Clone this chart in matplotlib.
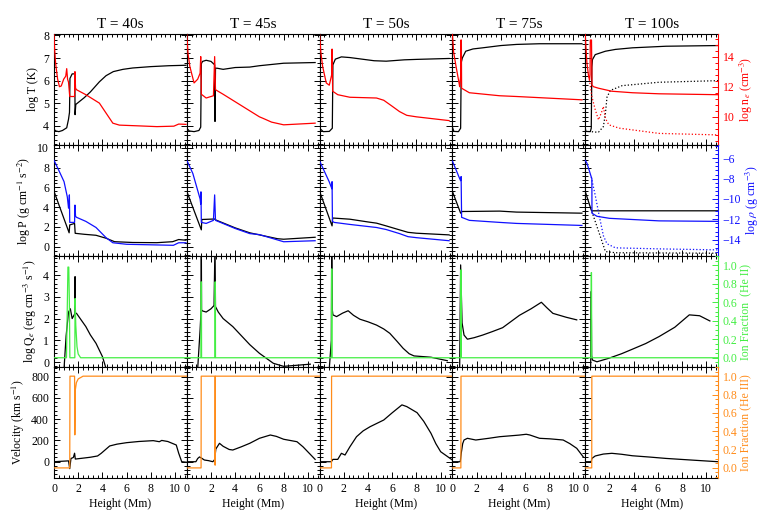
import matplotlib
matplotlib.use('Agg')
import matplotlib.pyplot as plt
from matplotlib.ticker import MultipleLocator, AutoMinorLocator

plt.rcParams['font.family'] = ['Liberation Serif', 'DejaVu Serif']
plt.rcParams['mathtext.fontset'] = 'stix'

# panel times (s)
times = [40, 45, 50, 75, 100]

# ---- T = 40 s ----  (height [Mm], value)
logT_40 = [(0, 3.85), (0.15, 3.78), (0.4, 3.75), (0.7, 3.8), (1.05, 3.92), (1.2, 4.3), (1.28, 4.6), (1.32, 6.1),
           (1.5, 6.3), (1.72, 6.3), (1.74, 4.5), (1.8, 4.95), (2.5, 5.25), (3.0, 5.5), (3.75, 5.95), (4.3, 6.22),
           (4.9, 6.4), (5.7, 6.5), (6.5, 6.56), (8.0, 6.62), (9.5, 6.66), (10.9, 6.68)]
ne_40 = [(0, 15.5), (0.05, 14.5), (0.14, 13.5), (0.3, 12.5), (0.45, 12.0), (0.6, 12.05), (0.8, 12.5), (0.97, 12.7),
         (1.05, 13.2), (1.12, 12.5), (1.2, 12.3), (1.3, 11.35), (1.7, 11.35), (1.73, 13.0), (1.78, 11.9),
         (1.86, 11.8), (2.63, 11.47), (3.75, 10.91), (4.3, 10.25), (4.86, 9.58), (5.4, 9.45), (7.0, 9.4),
         (8.5, 9.35), (9.9, 9.38), (10.3, 9.52), (10.9, 9.5)]
P_40 = [(0, 5.6), (1.25, 1.4), (1.3, 2.2), (1.7, 2.35), (1.75, 1.35), (2.5, 1.25), (3.47, 1.15), (4.3, 0.85),
        (5.0, 0.5), (6.5, 0.42), (8.5, 0.4), (9.8, 0.5), (10.3, 0.72), (10.9, 0.65)]
rho_40 = [(0, -6.2), (0.4, -7.2), (0.83, -8.3), (1.1, -9.8), (1.2, -10.9), (1.24, -10.7), (1.27, -9.6),
          (1.3, -12.3), (1.7, -12.3), (1.73, -10.6), (1.78, -11.7), (1.86, -11.8), (2.63, -12.2),
          (3.47, -12.8), (4.3, -13.8), (4.86, -14.3), (6.0, -14.45), (9.86, -14.55), (10.3, -14.3), (10.9, -14.3)]
Q_40 = [(0.83, -0.3), (1.0, 1.2), (1.2, 2.3), (1.35, 2.45), (1.5, 2.0), (1.67, 2.17), (1.73, 2.25), (1.74, 3.93),
        (1.77, 2.25), (1.86, 2.24), (2.63, 1.63), (3.0, 1.25), (3.47, 0.86), (4.0, 0.25), (4.3, -0.3)]
He2_40 = [(0, 0), (1.03, 0), (1.08, 0.4), (1.15, 0.98), (1.22, 0.98), (1.27, 0.6), (1.31, 0.0), (1.72, 0.0),
          (1.74, 0.64), (1.8, 0.35), (1.9, 0.12), (2.0, 0.04), (2.2, 0.0), (10.97, 0.0)]
V_40 = [(0, 0), (1.2, 8), (1.3, -65), (1.4, 30), (1.6, 40), (1.7, 80), (1.76, 25), (2.5, 35), (3.0, 42),
        (3.6, 54), (3.9, 79), (4.6, 148), (5.2, 165), (6.0, 179), (7.0, 190), (8.2, 198), (8.7, 188),
        (8.9, 200), (9.4, 190), (10.1, 157), (10.3, 80), (10.55, 0), (10.97, -5)]
He3_40 = [(0, 0), (1.3, 0), (1.32, 1.0), (1.7, 1.0), (1.72, 0.36), (1.76, 0.85), (1.85, 0.93), (2.0, 0.97),
          (2.4, 1.0), (10.97, 1.0)]

# ---- T = 45 s ----
logT_45 = [(0, 3.9), (0.2, 3.78), (0.6, 3.75), (1.0, 3.8), (1.15, 3.95), (1.2, 6.75), (1.3, 6.85), (1.6, 6.9),
           (2.0, 6.85), (2.3, 6.7), (2.33, 4.2), (2.37, 6.55), (2.5, 6.55), (3.0, 6.5), (4.0, 6.58), (5.2, 6.6),
           (6.0, 6.66), (8.0, 6.77), (10.6, 6.8)]
ne_45 = [(0, 15.5), (0.1, 14.2), (0.25, 13.35), (0.6, 12.25), (0.9, 12.5), (1.1, 12.9), (1.15, 14.0),
         (1.2, 11.5), (1.6, 11.25), (2.2, 11.4), (2.3, 14.0), (2.37, 11.8), (3.0, 11.5), (4.0, 11.0),
         (5.2, 10.4), (6.0, 10.0), (6.3, 9.9), (7.0, 9.65), (8.0, 9.47), (10.6, 9.58)]
P_45 = [(0, 5.6), (1.2, 1.7), (1.24, 2.75), (2.3, 2.8), (2.4, 2.7), (4.0, 1.9), (5.2, 1.4), (6.0, 1.19),
        (7.5, 0.8), (8.0, 0.75), (10.6, 0.95)]
rho_45 = [(0, -6.2), (0.5, -7.5), (1.1, -10.0), (1.15, -10.5), (1.17, -9.3), (1.2, -12.3), (1.6, -12.4),
          (2.2, -12.1), (2.3, -9.6), (2.37, -12.1), (4.0, -12.9), (5.2, -13.4), (6.0, -13.5), (8.0, -14.2),
          (10.6, -14.1)]
Q_45 = [(0.9, -0.3), (1.1, 1.5), (1.18, 2.4), (1.2, 5.5), (1.22, 2.4), (1.3, 2.35), (1.6, 2.3), (2.0, 2.45),
        (2.25, 2.6), (2.33, 5.5), (2.37, 2.55), (2.6, 2.3), (3.0, 2.0), (3.8, 1.63), (5.2, 0.8), (6.0, 0.4),
        (7.15, -0.06), (8.0, -0.2), (10.2, -0.1)]
He2_45 = [(0, 0), (1.17, 0), (1.18, 0.82), (1.21, 0.82), (1.22, 0), (2.32, 0), (2.33, 0.82), (2.36, 0.82),
          (2.37, 0), (10.97, 0)]
V_45 = [(0, 0), (0.75, 0), (0.9, 30), (1.05, 45), (1.2, 35), (1.45, 16), (1.8, 10), (2.15, 0), (2.3, 20),
        (2.4, 120), (2.7, 173), (3.0, 145), (3.5, 115), (3.8, 110), (4.5, 140), (5.2, 173), (6.0, 220),
        (6.9, 251), (7.4, 238), (8.0, 211), (9.1, 188), (9.6, 140), (10.6, 22)]
He3_45 = [(0, 0), (1.18, 0), (1.19, 1.0), (2.33, 1.0), (2.34, 0.03), (2.36, 1.0), (10.97, 1.0)]

# ---- T = 50 s ----
logT_50 = [(0, 3.9), (0.3, 3.75), (0.8, 3.76), (1.05, 3.9), (1.1, 6.7), (1.3, 6.95), (1.8, 7.05), (2.5, 7.02),
           (3.5, 6.95), (4.5, 6.88), (5.5, 6.86), (7.0, 6.92), (8.05, 6.94), (10.7, 6.98)]
ne_50 = [(0, 15.5), (0.1, 14.3), (0.25, 13.35), (0.55, 12.25), (0.8, 12.1), (1.0, 12.8), (1.03, 14.5),
         (1.08, 11.7), (1.5, 11.47), (2.5, 11.3), (4.7, 11.25), (5.3, 11.1), (6.0, 10.7), (6.6, 10.35),
         (7.2, 10.1), (8.0, 10.0), (10.7, 9.75)]
P_50 = [(0, 5.6), (1.03, 2.1), (1.08, 2.9), (2.5, 2.78), (4.0, 2.5), (4.7, 2.38), (5.5, 2.1), (6.6, 1.7),
        (7.3, 1.45), (8.0, 1.36), (10.7, 1.19)]
rho_50 = [(0, -6.27), (0.8, -8.33), (0.95, -8.8), (1.02, -9.0), (1.03, -8.3), (1.06, -12.2), (1.2, -12.3),
          (2.5, -12.5), (4.7, -12.8), (5.5, -13.0), (6.6, -13.4), (7.3, -13.7), (8.0, -13.8), (10.7, -14.1)]
Q_50 = [(0.8, -0.3), (0.97, 1.0), (1.0, 5.5), (1.05, 2.4), (1.1, 2.17), (1.4, 2.09), (1.9, 2.25), (2.36, 2.36),
        (2.8, 2.15), (3.33, 1.97), (4.0, 1.85), (4.7, 1.7), (5.3, 1.52), (5.8, 1.32), (6.4, 0.95), (6.9, 0.63),
        (7.4, 0.38), (7.8, 0.28), (9.2, 0.22), (10.55, 0.06)]
He2_50 = [(0, 0), (0.98, 0), (0.99, 0.96), (1.02, 0.96), (1.03, 0), (10.97, 0)]
V_50 = [(0, 0), (0.97, 0), (1.1, 22), (1.5, 22), (1.8, 79), (2.1, 63), (2.5, 140), (3.05, 235), (3.6, 290),
        (4.17, 329), (5.3, 392), (6.0, 460), (6.8, 534), (7.2, 518), (8.05, 461), (8.6, 380), (9.2, 267),
        (9.6, 170), (10.0, 94), (10.97, 16)]
He3_50 = [(0, 0), (0.98, 0), (0.99, 1.0), (10.97, 1.0)]

# ---- T = 75 s ----
logT_75 = [(0, 3.95), (0.12, 3.76), (0.5, 3.75), (0.68, 3.9), (0.73, 6.8), (0.82, 7.0), (1.1, 7.3), (1.7, 7.4),
           (2.5, 7.45), (4.0, 7.55), (5.3, 7.6), (7.2, 7.63), (10.7, 7.63)]
ne_75 = [(0, 15.5), (0.1, 14.3), (0.3, 13.35), (0.5, 12.47), (0.6, 12.0), (0.68, 12.7), (0.7, 15.1),
         (0.74, 15.1), (0.76, 11.9), (1.4, 11.6), (3.9, 11.4), (5.3, 11.35), (10.7, 11.13)]
P_75 = [(0, 5.6), (0.68, 3.39), (0.8, 3.56), (3.9, 3.6), (5.3, 3.5), (10.7, 3.39)]
rho_75 = [(0, -6.27), (0.6, -8.0), (0.68, -8.2), (0.72, -7.8), (0.76, -11.8), (1.4, -12.1), (3.9, -12.3),
          (5.3, -12.4), (10.7, -12.6)]
Q_75 = [(0.6, -0.3), (0.68, 4.47), (0.8, 1.8), (0.96, 1.24), (1.24, 1.05), (1.8, 1.12), (2.5, 1.24),
        (3.3, 1.4), (4.15, 1.58), (5.54, 2.15), (6.5, 2.45), (7.35, 2.75), (7.8, 2.5), (8.3, 2.24),
        (9.4, 2.06), (10.27, 1.94)]
He2_75 = [(0, 0), (0.69, 0), (0.7, 0.95), (0.73, 0.95), (0.74, 0), (10.97, 0)]
V_75 = [(0, 0), (0.65, 0), (0.73, 79), (0.85, 170), (0.96, 204), (1.24, 220), (1.93, 204), (3.0, 220),
        (3.9, 235), (5.5, 250), (6.1, 258), (6.4, 251), (7.2, 220), (8.05, 215), (9.15, 204), (9.7, 170),
        (10.27, 126), (10.8, 47)]
He3_75 = [(0, 0), (0.7, 0), (0.71, 1.0), (10.97, 1.0)]

# ---- T = 100 s ----
logT_100 = [(0, 3.95), (0.05, 3.76), (0.42, 3.75), (0.5, 3.9), (0.55, 6.6), (0.6, 6.93), (0.83, 7.15),
            (1.67, 7.3), (2.5, 7.38), (3.9, 7.45), (6.67, 7.52), (10.97, 7.55)]
logT_100b = [(0.55, 3.75), (0.7, 3.73), (1.1, 3.73), (1.5, 3.97), (1.67, 4.55), (1.8, 5.27), (2.08, 5.57),
             (3.05, 5.78), (6.1, 5.93), (10.97, 6.0)]
ne_100 = [(0, 15.5), (0.07, 14.5), (0.14, 13.58), (0.28, 12.7), (0.36, 12.45), (0.4, 12.8), (0.42, 15.1),
          (0.52, 15.1), (0.56, 12.1), (0.69, 12.0), (1.1, 11.9), (2.2, 11.7), (3.9, 11.6), (6.1, 11.53),
          (10.97, 11.47)]
ne_100b = [(0.3, 12.7), (0.55, 11.35), (0.83, 10.47), (1.1, 9.8), (1.35, 10.3), (1.5, 10.69), (1.67, 9.9),
           (1.95, 9.47), (2.8, 9.25), (6.1, 8.9), (10.97, 8.8)]
P_100 = [(0, 5.6), (0.5, 3.7), (0.55, 3.63), (10.97, 3.63)]
P_100b = [(0.55, 3.56), (1.67, -0.5), (2.5, -0.62), (10.97, -0.67)]
rho_100 = [(0, -6.2), (0.15, -6.5), (0.5, -7.84), (0.55, -8.0), (0.56, -11.4), (0.97, -11.7), (2.0, -11.9),
           (6.1, -12.15), (10.97, -12.2)]
rho_100b = [(0.5, -7.84), (0.83, -9.65), (1.1, -11.3), (1.5, -13.6), (1.8, -14.4), (2.5, -14.8), (6.1, -14.9),
            (10.97, -15.0)]
Q_100 = [(0, -0.3), (0.45, -0.3), (0.5, 3.25), (0.53, 0.3), (0.6, 0.09), (0.97, 0.01), (1.94, 0.17),
         (3.0, 0.38), (3.9, 0.59), (5.0, 0.85), (6.1, 1.17), (7.4, 1.6), (8.6, 2.17), (9.45, 2.13), (10.3, 1.89)]
He2_100 = [(0, 0), (0.48, 0), (0.5, 0.92), (0.52, 0.92), (0.54, 0), (10.97, 0)]
V_100 = [(0, 0), (0.5, 0), (0.55, 31), (0.83, 54), (1.5, 72), (2.2, 79), (3.0, 70), (3.9, 56), (5.3, 44),
         (6.67, 31), (9.0, 14), (10.97, 0)]
He3_100 = [(0, 0), (0.54, 0), (0.55, 1.0), (10.97, 1.0)]

left_series = [[logT_40, logT_45, logT_50, logT_75, logT_100],
               [P_40, P_45, P_50, P_75, P_100],
               [Q_40, Q_45, Q_50, Q_75, Q_100],
               [V_40, V_45, V_50, V_75, V_100]]
right_series = [[ne_40, ne_45, ne_50, ne_75, ne_100],
                [rho_40, rho_45, rho_50, rho_75, rho_100],
                [He2_40, He2_45, He2_50, He2_75, He2_100],
                [He3_40, He3_45, He3_50, He3_75, He3_100]]

left_labels = ['log T (K)', 'log P (g cm$^{-1}$ s$^{-2}$)', 'log Q$_e$ (erg cm$^{-3}$ s$^{-1}$)',
               'Velocity (km s$^{-1}$)']
right_labels = ['log n$_e$ (cm$^{-3}$)', 'log $\\rho$ (g cm$^{-3}$)', 'Ion Fraction  (He II)',
                'Ion Fraction (He III)']
right_colors = ['#ff0000', '#1010ff', '#44ee44', '#ff8c1a']

left_lims = [(3.16, 8.06), (-0.95, 10.3), (-0.23, 4.88), (-153, 890)]
right_lims = [(8.13, 15.5), (-15.6, -4.7), (-0.1, 1.1), (-0.11, 1.1)]
left_major = [1, 2, 1, 200]
left_minor = [5, 5, 5, 5]
right_major = [2, 2, 0.2, 0.2]
right_minor = [5, 5, 4, 4]


def xy(pts):
    return [p[0] for p in pts], [p[1] for p in pts]


fig, axes = plt.subplots(4, 5, figsize=(7.72, 5.14), dpi=100, sharex=True)
plt.subplots_adjust(left=54 / 772, right=718 / 772, bottom=36 / 514, top=480 / 514, wspace=0, hspace=0)

lw = 0.9
for r in range(4):
    for c in range(5):
        ax = axes[r][c]
        tw = ax.twinx()
        x, y = xy(left_series[r][c])
        ax.plot(x, y, color='k', lw=lw)
        x, y = xy(right_series[r][c])
        tw.plot(x, y, color=right_colors[r], lw=lw)
        if c == 4:
            if r == 0:
                x, y = xy(logT_100b)
                ax.plot(x, y, color='k', lw=lw, ls=':')
                x, y = xy(ne_100b)
                tw.plot(x, y, color=right_colors[r], lw=lw, ls=':')
            if r == 1:
                x, y = xy(P_100b)
                ax.plot(x, y, color='k', lw=lw, ls=':')
                x, y = xy(rho_100b)
                tw.plot(x, y, color=right_colors[r], lw=lw, ls=':')

        ax.set_xlim(0, 10.97)
        ax.set_ylim(left_lims[r])
        tw.set_ylim(right_lims[r])
        ax.xaxis.set_major_locator(MultipleLocator(2))
        ax.xaxis.set_minor_locator(AutoMinorLocator(5))
        ax.yaxis.set_major_locator(MultipleLocator(left_major[r]))
        ax.yaxis.set_minor_locator(AutoMinorLocator(left_minor[r]))
        ax.tick_params(which='both', direction='in', top=True, right=(c < 4), labelsize=8.5,
                       labelleft=(c == 0), labelbottom=(r == 3), width=0.7)
        ax.tick_params(which='major', length=4.5)
        ax.tick_params(which='minor', length=2.2)
        for s in ax.spines.values():
            s.set_linewidth(0.8)

        if c < 4:
            tw.tick_params(which='both', right=False, labelright=False)
            for s in tw.spines.values():
                s.set_visible(False)
        else:
            col = right_colors[r]
            ax.spines['right'].set_visible(False)
            for k, s in tw.spines.items():
                s.set_visible(k == 'right')
            tw.spines['right'].set_color(col)
            tw.spines['right'].set_linewidth(0.8)
            tw.yaxis.set_major_locator(MultipleLocator(right_major[r]))
            tw.yaxis.set_minor_locator(AutoMinorLocator(right_minor[r]))
            tw.tick_params(which='both', direction='in', colors=col, labelsize=8.5, width=0.7)
            tw.tick_params(which='major', length=4.5)
            tw.tick_params(which='minor', length=2.2)
            tw.set_ylabel(right_labels[r], color=col, fontsize=8.5, labelpad=2)

        if c == 0:
            ax.set_ylabel(left_labels[r], fontsize=8.5, labelpad=3)
        if r == 3:
            ax.set_xlabel('Height (Mm)', fontsize=8.5, labelpad=2)
        if r == 0:
            ax.set_title('T = %ds' % times[c], fontsize=11, pad=4)

fig.savefig('out.png', dpi=100)
